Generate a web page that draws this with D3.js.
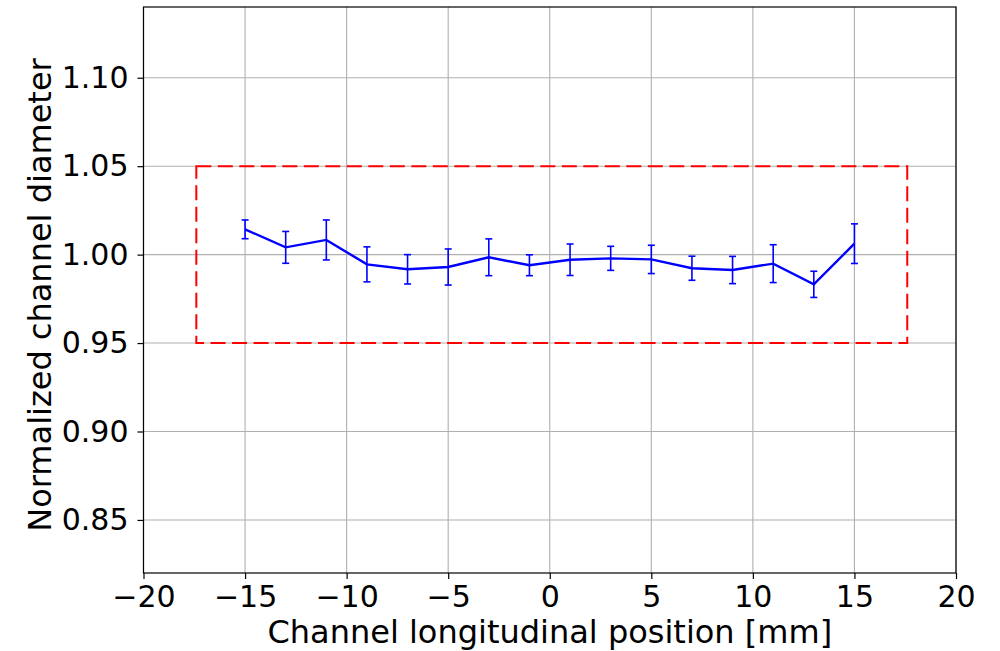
<!DOCTYPE html>
<html>
<head>
<meta charset="utf-8">
<script src="https://cdn.jsdelivr.net/npm/d3@7"></script>
<style>
body { margin: 0; background: #fff; }
text { font-family: "DejaVu Sans", sans-serif; fill: #000; }
</style>
</head>
<body>
<div id="the_chart"></div>
<script>
// positions along the channel [mm]
let positions = [-15, -13, -11, -9, -7, -5, -3, -1, 1, 3, 5, 7, 9, 11, 13, 15];
// normalized diameter and its error
let diameters = [1.0143, 1.0041, 1.0083, 0.9945, 0.9917, 0.9930, 0.9985, 0.9940,
                 0.9971, 0.9979, 0.9973, 0.9923, 0.9913, 0.9949, 0.9832, 1.0062];
let errors = [0.0053, 0.0090, 0.0113, 0.0099, 0.0083, 0.0102, 0.0104, 0.0059,
              0.0089, 0.0068, 0.0080, 0.0068, 0.0077, 0.0107, 0.0074, 0.0112];
// tolerance box
let box_x = [-17.4, 17.6];
let box_y = [0.95, 1.05];
let x_ticks = [-20, -15, -10, -5, 0, 5, 10, 15, 20];
let y_ticks = [0.85, 0.90, 0.95, 1.00, 1.05, 1.10];

gen_vis();

function gen_vis() {
    var w = 1000;
    var h = 651;
    var left = 143.5, right = 956, top = 7, bottom = 573;
    var fs = 32, tfs = 30;

    var xscale = d3.scaleLinear()
        .domain([-20, 20])
        .range([left, right]);
    var yscale = d3.scaleLinear()
        .domain([0.82, 1.14])
        .range([bottom, top]);

    var svg = d3.select("#the_chart").append("svg")
        .attr("width", w)
        .attr("height", h);

    // grid
    svg.append("g").selectAll("line")
        .data(x_ticks)
        .enter().append("line")
        .attr("x1", function(d) { return xscale(d); })
        .attr("x2", function(d) { return xscale(d); })
        .attr("y1", top)
        .attr("y2", bottom)
        .attr("stroke", "#b0b0b0")
        .attr("stroke-width", 1.1);
    svg.append("g").selectAll("line")
        .data(y_ticks)
        .enter().append("line")
        .attr("x1", left)
        .attr("x2", right)
        .attr("y1", function(d) { return yscale(d); })
        .attr("y2", function(d) { return yscale(d); })
        .attr("stroke", "#b0b0b0")
        .attr("stroke-width", 1.1);

    // axes
    var xaxis = d3.axisBottom(xscale)
        .tickValues(x_ticks)
        .tickSize(6)
        .tickPadding(7)
        .tickFormat(function(d) { return d < 0 ? "\u2212" + Math.abs(d) : d; });
    var gx = svg.append("g")
        .attr("transform", "translate(0," + bottom + ")")
        .call(xaxis);
    gx.select(".domain").remove();
    gx.selectAll("text")
        .attr("font-size", tfs)
        .attr("font-family", "DejaVu Sans");
    gx.selectAll("line").attr("stroke-width", 1.2);

    var yaxis = d3.axisLeft(yscale)
        .tickValues(y_ticks)
        .tickSize(6)
        .tickPadding(9)
        .tickFormat(d3.format(".2f"));
    var gy = svg.append("g")
        .attr("transform", "translate(" + left + ",0)")
        .call(yaxis);
    gy.select(".domain").remove();
    gy.selectAll("text")
        .attr("font-size", tfs)
        .attr("font-family", "DejaVu Sans");
    gy.selectAll("line").attr("stroke-width", 1.2);

    // frame
    svg.append("rect")
        .attr("x", left)
        .attr("y", top)
        .attr("width", right - left)
        .attr("height", bottom - top)
        .attr("fill", "none")
        .attr("stroke", "#000")
        .attr("stroke-width", 1.2);

    // red dashed box
    svg.append("rect")
        .attr("x", xscale(box_x[0]))
        .attr("y", yscale(box_y[1]))
        .attr("width", xscale(box_x[1]) - xscale(box_x[0]))
        .attr("height", yscale(box_y[0]) - yscale(box_y[1]))
        .attr("fill", "none")
        .attr("stroke", "#ff0000")
        .attr("stroke-width", 2)
        .attr("stroke-dasharray", "15,6.5");

    // error bars
    var eb = svg.append("g").attr("stroke", "#0000ff").attr("stroke-width", 1.6);
    eb.selectAll(".bar")
        .data(positions)
        .enter().append("line")
        .attr("x1", function(d) { return xscale(d); })
        .attr("x2", function(d) { return xscale(d); })
        .attr("y1", function(d, i) { return yscale(diameters[i] + errors[i]); })
        .attr("y2", function(d, i) { return yscale(diameters[i] - errors[i]); });
    eb.selectAll(".captop")
        .data(positions)
        .enter().append("line")
        .attr("x1", function(d) { return xscale(d) - 3.5; })
        .attr("x2", function(d) { return xscale(d) + 3.5; })
        .attr("y1", function(d, i) { return yscale(diameters[i] + errors[i]); })
        .attr("y2", function(d, i) { return yscale(diameters[i] + errors[i]); });
    eb.selectAll(".capbot")
        .data(positions)
        .enter().append("line")
        .attr("x1", function(d) { return xscale(d) - 3.5; })
        .attr("x2", function(d) { return xscale(d) + 3.5; })
        .attr("y1", function(d, i) { return yscale(diameters[i] - errors[i]); })
        .attr("y2", function(d, i) { return yscale(diameters[i] - errors[i]); });

    // line
    var line = d3.line()
        .x(function(d) { return xscale(d); })
        .y(function(d, i) { return yscale(diameters[i]); });
    svg.append("path")
        .datum(positions)
        .attr("d", line)
        .attr("fill", "none")
        .attr("stroke", "#0000ff")
        .attr("stroke-width", 2.4);

    // labels
    svg.append("text")
        .attr("x", (left + right) / 2)
        .attr("y", 643)
        .attr("text-anchor", "middle")
        .attr("font-size", fs)
        .text("Channel longitudinal position [mm]");
    svg.append("text")
        .attr("transform", "translate(51," + 295 + ") rotate(-90)")
        .attr("text-anchor", "middle")
        .attr("font-size", fs)
        .text("Normalized channel diameter");
}
</script>
</body>
</html>
